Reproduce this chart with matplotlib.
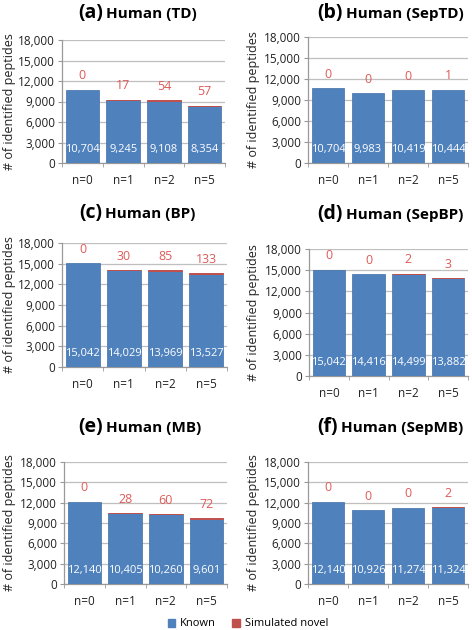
import numpy as np
import matplotlib
matplotlib.use("Agg")
import matplotlib.pyplot as plt
from matplotlib.patches import Patch

plt.rcParams['font.family'] = ['Open Sans', 'DejaVu Sans']

categories = ["n=0", "n=1", "n=2", "n=5"]

panel_tags = ["(a)", "(b)", "(c)", "(d)", "(e)", "(f)"]
panel_names = ["Human (TD)", "Human (SepTD)", "Human (BP)", "Human (SepBP)", "Human (MB)", "Human (SepMB)"]

known_td = [10704, 9245, 9108, 8354]
novel_td = [0, 17, 54, 57]
known_sep_td = [10704, 9983, 10419, 10444]
novel_sep_td = [0, 0, 0, 1]
known_bp = [15042, 14029, 13969, 13527]
novel_bp = [0, 30, 85, 133]
known_sep_bp = [15042, 14416, 14499, 13882]
novel_sep_bp = [0, 0, 2, 3]
known_mb = [12140, 10405, 10260, 9601]
novel_mb = [0, 28, 60, 72]
known_sep_mb = [12140, 10926, 11274, 11324]
novel_sep_mb = [0, 0, 0, 2]

yticks = [0, 3000, 6000, 9000, 12000, 15000, 18000]

known_all = [known_td, known_sep_td, known_bp, known_sep_bp, known_mb, known_sep_mb]
novel_all = [novel_td, novel_sep_td, novel_bp, novel_sep_bp, novel_mb, novel_sep_mb]

W, H = 472, 630
# axes boxes in pixels: left, top, right, bottom
boxes = [(62, 40, 225, 163), (308, 37, 468, 163),
         (62, 243, 227, 367), (309, 249, 468, 376),
         (64, 462, 227, 584), (308, 462, 468, 584)]
# title split x / centre y, ylabel right edge x (pixels)
title_pos = [(103, 13), (343, 13), (102, 213), (343, 214), (103, 427), (338, 427)]
ylabel_x = [16, 260, 16, 260, 16, 260]

BLUE = '#4F81BD'
RED = '#C0504D'
RED_TXT = '#DE5B57'
GRID = '#BFBFBF'

fig = plt.figure(figsize=(W / 100, H / 100), dpi=100)

for i in range(6):
    l, t, r, b = boxes[i]
    ax = fig.add_axes([l / W, (H - b) / H, (r - l) / W, (b - t) / H])
    x = np.arange(len(categories))
    known = np.array(known_all[i])
    novel = np.array(novel_all[i])
    ax.bar(x, known, width=0.82, color=BLUE, edgecolor='#3F6FA8', linewidth=0.5, zorder=3)
    ax.bar(x, novel, bottom=known, width=0.82, color=RED,
           edgecolor=[RED if v > 1 else 'none' for v in novel], linewidth=0.7, zorder=3)
    ax.set_xlim(-0.5, 3.5)
    ax.set_ylim(0, 18000)
    ax.set_yticks(yticks)
    ax.set_yticklabels([f"{v:,}" for v in yticks], fontsize=8.5, color='#222222')
    ax.set_xticks(x)
    ax.set_xticklabels(categories, fontsize=8.5, color='#222222')
    ax.tick_params(axis='x', length=0, pad=8)
    ax.set_xticks(np.arange(-0.5, 4.0, 1.0), minor=True)
    ax.tick_params(axis='x', which='minor', length=3, color='#999999', direction='out')
    ax.tick_params(axis='y', length=3, color='#999999', direction='out', pad=2)
    ax.grid(axis='y', color=GRID, linewidth=0.9, zorder=0)
    for s in ['top', 'right']:
        ax.spines[s].set_visible(False)
    for s in ['left', 'bottom']:
        ax.spines[s].set_color('#999999')
        ax.spines[s].set_linewidth(0.9)
    ax.set_ylabel("# of identified peptides", fontsize=9, color='#222222')
    ax.yaxis.set_label_coords((ylabel_x[i] - l) / (r - l), 0.5)

    for xi, k, n in zip(x, known, novel):
        ax.text(xi, 1950, f"{k:,}", ha='center', va='center', color='white', fontsize=8, zorder=4)
        ax.annotate(f"{n}", (xi, k + n), xytext=(0, 10), textcoords='offset points',
                    ha='center', va='center', color=RED_TXT, fontsize=9, zorder=4)

    tx, ty = title_pos[i]
    fig.text(tx / W, 1 - ty / H, panel_tags[i], ha='right', va='center',
             fontsize=14, fontweight='bold')
    fig.text((tx + 3) / W, 1 - (ty + 1) / H, panel_names[i], ha='left', va='center',
             fontsize=11, fontweight='bold')

handles = [Patch(facecolor=BLUE, edgecolor=BLUE), Patch(facecolor=RED, edgecolor=RED)]
fig.legend(handles, ["Known", "Simulated novel"], loc='center', ncol=2,
           bbox_to_anchor=(0.525, 1 - 624 / H), frameon=False, fontsize=8,
           handlelength=0.7, handleheight=0.7, handletextpad=0.4, columnspacing=1.5)

fig.savefig("out.png", dpi=100)
